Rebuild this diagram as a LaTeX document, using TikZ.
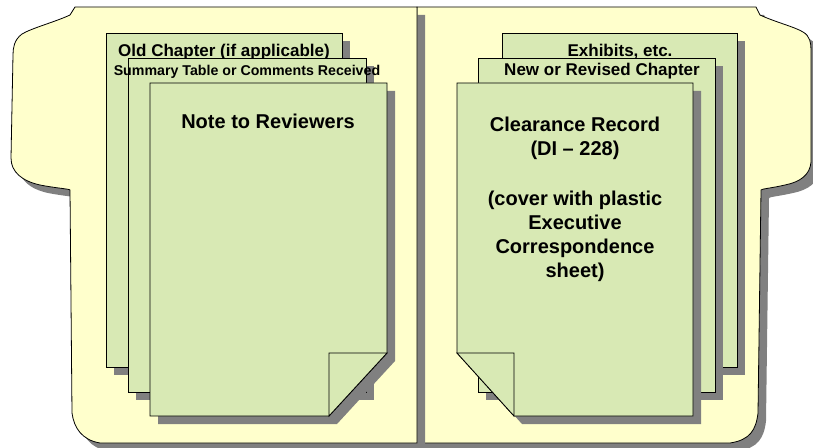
\documentclass[tikz,border=0pt]{standalone}
\usepackage{fontspec}
\setmainfont{Liberation Sans}
\usetikzlibrary{shadows}
\definecolor{folderfill}{RGB}{255,255,204}
\definecolor{pagefill}{RGB}{216,233,180}
\definecolor{shadowgray}{RGB}{128,128,128}
\begin{document}
\begin{tikzpicture}[x=1bp,y=1bp]
\tikzstyle{every node}+=[inner sep=0pt]
\tikzstyle{folder}=[draw=black, line width=0.8bp, fill=folderfill, drop shadow={shadow xshift=8bp, shadow yshift=-8bp, opacity=1, fill=shadowgray}]
\tikzstyle{page}=[draw=black, line width=0.8bp, fill=pagefill, drop shadow={shadow xshift=8bp, shadow yshift=-8bp, opacity=1, fill=shadowgray}]
\tikzstyle{flap}=[draw=black, line width=0.8bp, fill=pagefill]
\tikzstyle{pagetitle}=[anchor=base, font=\bfseries\fontsize{17bp}{20bp}\selectfont]
\tikzstyle{pagesub}=[anchor=base, font=\bfseries\fontsize{14.2bp}{17bp}\selectfont]
\tikzstyle{pagebig}=[font=\bfseries\fontsize{20bp}{24bp}\selectfont]
\useasboundingbox (0,0) rectangle (813,-448);
\draw [folder] (417,-7) -- (756,-7) -- (760,-15) .. controls (775,-22) and (795,-27) .. (803,-32) .. controls (810,-36) and (811,-43) .. (811,-50) -- (811,-162) .. controls (810,-175) and (800,-182) .. (785,-185) .. controls (772,-188) and (761,-189) .. (761,-190) -- (758,-413) .. controls (756,-430) and (750,-440) .. (730,-443) -- (417,-443) -- cycle;
\draw [folder] (417,-7) -- (75,-7) -- (70,-15) .. controls (55,-22) and (32,-28) .. (22,-34) .. controls (14,-40) and (13,-48) .. (13,-55) -- (11,-158) .. controls (11,-172) and (22,-181) .. (40,-185) .. controls (55,-188) and (70,-189) .. (70,-190) -- (72,-413) .. controls (74,-428) and (82,-440) .. (100,-443) -- (417,-443) -- cycle;
\draw [page] (106,-33) rectangle (342,-367);
\node [pagetitle] (oldch) at (224,-57) {Old Chapter (if applicable)};
\draw [page] (128,-58) rectangle (366,-392);
\node [pagesub] (summary) at (247,-76) {Summary Table or Comments Received};
\draw [page] (150,-83) -- (387,-83) -- (387,-353) -- (329,-416) -- (150,-416) -- cycle;
\draw [flap] (329,-353) -- (387,-353) -- (329,-416) -- cycle;
\node [pagebig, anchor=base] (note) at (268,-129) {Note to Reviewers};
\draw [page] (502,-33) rectangle (737,-367);
\node [pagetitle] (exhibits) at (620,-57) {Exhibits, etc.};
\draw [page] (478,-58) rectangle (715,-392);
\node [pagetitle] (newch) at (602,-76) {New or Revised Chapter};
\draw [page] (457,-83) -- (693,-83) -- (693,-416) -- (514,-416) -- (457,-353) -- cycle;
\draw [flap] (457,-353) -- (514,-353) -- (514,-416) -- cycle;
\node [pagebig, anchor=north, align=center] (clearance) at (575,-117) {Clearance Record\\(DI – 228)\\[26bp](cover with plastic\\Executive\\Correspondence\\sheet)};
\end{tikzpicture}
\end{document}
